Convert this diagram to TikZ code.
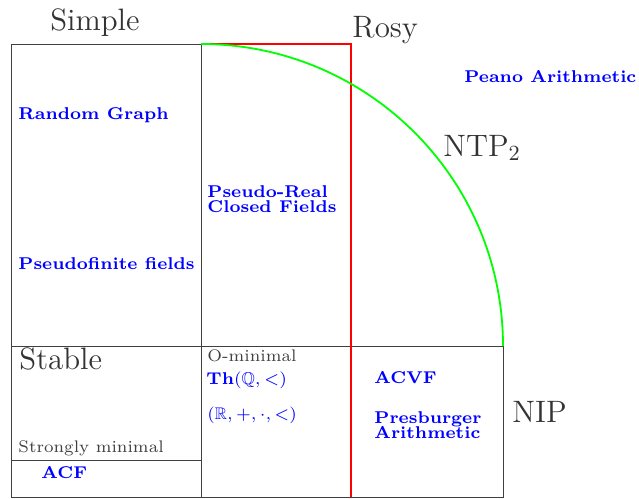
\documentclass[tikz,border=0pt]{standalone}
\usepackage{amssymb}
\begin{document}
\begin{tikzpicture}[x=1pt,y=-1pt,
  txt/.style={inner sep=0pt, anchor=base west},
  big/.style={txt, scale=2.4, text=black!80, font=\fontsize{12.9}{15}\selectfont},
  ex/.style={txt, scale=2.44, text=blue, font=\scriptsize\bfseries, align=left},
  mth/.style={txt, scale=2.4, text=blue, font=\scriptsize},
  cls/.style={txt, scale=2.4, text=black!75, font=\scriptsize},
  frame/.style={draw=black!75, line width=0.8pt},
]
\useasboundingbox (0,0) rectangle (639,498);
% frames
\coordinate (tl) at (11,44);
\coordinate (tm) at (201,44);
\coordinate (tr) at (351,44);
\coordinate (ml) at (11,346);
\coordinate (mr) at (503,346);
\coordinate (bl) at (11,497);
\coordinate (bm) at (201,497);
\coordinate (br) at (503,497);
\coordinate (rb) at (351,497);
\coordinate (sl) at (11,460);
\coordinate (sr) at (201,460);
\draw[frame] (tm) -- (tl) -- (bl) -- (br) -- (mr) -- (ml);
\draw[frame] (tm) -- (bm);
\draw[frame] (sl) -- (sr);
\draw[red, line width=2pt] (tm) -- (tr) -- (rb);
\draw[green, line width=1.8pt] (tm) arc[start angle=-90, end angle=0, radius=302];
% labels
\node[big, anchor=base] (simple) at (95,30) {Simple};
\node[big] (rosy) at (352,37) {Rosy};
\node[big] (ntp) at (443,156) {NTP$_2$};
\node[big] (stable) at (19,369) {Stable};
\node[big] (nip) at (512,422) {NIP};
\node[cls] (omin) at (207,361) {O-minimal};
\node[cls] (smin) at (18,452) {Strongly minimal};
% examples
\node[ex] (pa) at (464,82) {Peano Arithmetic};
\node[ex] (rg) at (18,119) {Random Graph};
\node[ex, anchor=north west] (prcf) at (207,185.5) {Pseudo-Real\\[-2pt]Closed Fields};
\node[ex] (pf) at (18,269) {Pseudofinite fields};
\node[ex] (thq) at (206,384) {Th$(\mathbb{Q},<)$};
\node[mth] (rfield) at (207,419) {$(\mathbb{R},+,\cdot,<)$};
\node[ex] (acvf) at (374,383) {ACVF};
\node[ex, anchor=north west] (pres) at (374,411.5) {Presburger\\[-2pt]Arithmetic};
\node[ex] (acf) at (41,478) {ACF};
\end{tikzpicture}
\end{document}
